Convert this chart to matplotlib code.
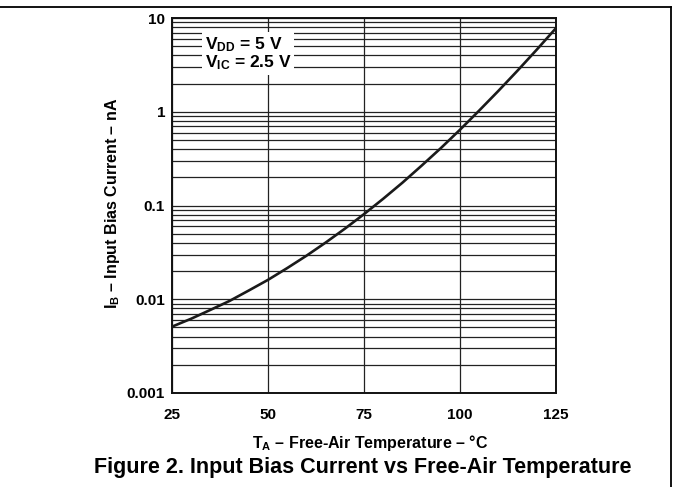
import matplotlib
matplotlib.use("Agg")
import matplotlib.pyplot as plt
from matplotlib.ticker import FixedLocator, LogLocator, NullFormatter
import matplotlib.lines as mlines

plt.rcParams['font.family'] = ['Liberation Sans', 'DejaVu Sans']
plt.rcParams['mathtext.fontset'] = 'custom'
plt.rcParams['mathtext.rm'] = 'Liberation Sans'
plt.rcParams['mathtext.bf'] = 'Liberation Sans:bold'
plt.rcParams['mathtext.it'] = 'Liberation Sans:italic'

# Data
temperature_c = [25, 30, 35, 40, 45, 50, 55, 60, 65, 70, 75, 80, 85, 90, 95, 100,
                 105, 110, 115, 120, 125]
bias_current_na = [0.0051, 0.0062, 0.0077, 0.0096, 0.0124, 0.0161, 0.0215, 0.0291, 0.0402,
                   0.0565, 0.0809, 0.118, 0.175, 0.266, 0.409, 0.643,
                   1.03, 1.67, 2.75, 4.6, 7.8]
x_ticks = [25, 50, 75, 100, 125]
x_tick_labels = ["25", "50", "75", "100", "125"]
y_ticks = [0.001, 0.01, 0.1, 1, 10]
y_tick_labels = ["0.001", "0.01", "0.1", "1", "10"]

fig = plt.figure(figsize=(6.73, 4.87), dpi=100)
ax = fig.add_axes([172/673, 1-393/487, (556-172)/673, (393-18)/487])

ax.plot(temperature_c, bias_current_na, color='#1a1a1a', lw=1.9, solid_capstyle='butt', zorder=5)
ax.set_yscale('log')
ax.set_xlim(25, 125)
ax.set_ylim(0.001, 10)

ax.xaxis.set_major_locator(FixedLocator(x_ticks))
ax.set_xticklabels(x_tick_labels)
ax.yaxis.set_major_locator(FixedLocator(y_ticks))
ax.set_yticklabels(y_tick_labels)
ax.yaxis.set_minor_locator(LogLocator(base=10, subs=range(2, 10)))
ax.yaxis.set_minor_formatter(NullFormatter())

ax.grid(True, which='major', axis='both', color='#222222', lw=0.9)
ax.grid(True, which='minor', axis='y', color='#222222', lw=0.9)
ax.tick_params(axis='both', which='both', length=0)
ax.tick_params(axis='y', pad=5, labelsize=11)
ax.tick_params(axis='x', pad=11, labelsize=11)
for lbl in ax.get_xticklabels() + ax.get_yticklabels():
    lbl.set_fontweight('bold')
for s in ax.spines.values():
    s.set_linewidth(1.4)
    s.set_color('#111111')

ax.text(0.086, 0.905, "V$_\\mathbf{DD}$ = 5 V\nV$_\\mathbf{IC}$ = 2.5 V",
        transform=ax.transAxes, ha='left', va='center', fontsize=12.5, fontweight='bold',
        linespacing=1.0, zorder=6,
        bbox=dict(facecolor='white', edgecolor='none', pad=2))

fig.text(113/673, 1-203/487, "I$_\\mathbf{B}$ – Input Bias Current – nA", rotation=90,
         ha='center', va='center', fontsize=11.5, fontweight='bold')
fig.text(370/673, 1-443/487, "T$_\\mathbf{A}$ – Free-Air Temperature – °C",
         ha='center', va='center', fontsize=11.5, fontweight='bold')
fig.text(363/673, 1-468/487, "Figure 2. Input Bias Current vs Free-Air Temperature",
         ha='center', va='center', fontsize=15.5, fontweight='bold')

# outer frame lines (top and right)
fig.add_artist(mlines.Line2D([0, 671/673], [1-7/487, 1-7/487], color='black', lw=1.3, transform=fig.transFigure))
fig.add_artist(mlines.Line2D([671/673, 671/673], [1-7/487, 0], color='black', lw=1.3, transform=fig.transFigure))

fig.savefig("out.png", dpi=100)
